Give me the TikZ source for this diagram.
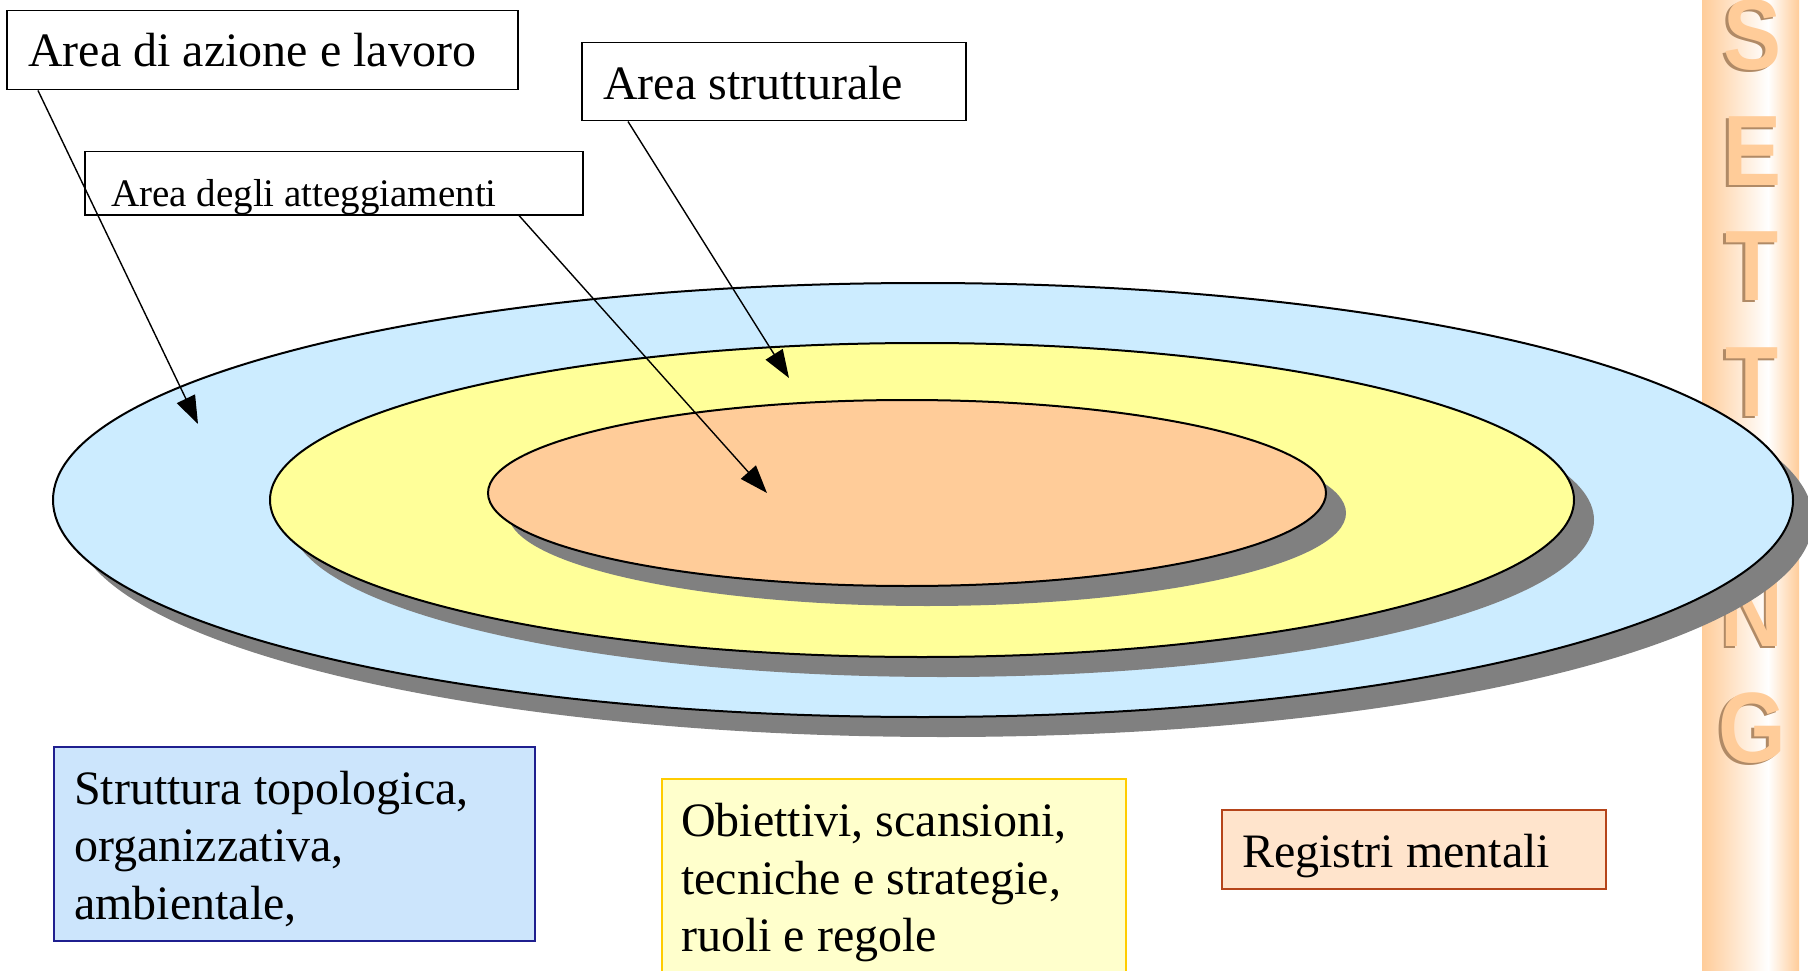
\documentclass[tikz,border=0pt]{standalone}
\usepackage{fontspec}
\setmainfont{Liberation Serif}
\newfontfamily\settingfont{Liberation Sans}
\usetikzlibrary{arrows.meta,calc}
\definecolor{ringblue}{HTML}{CCECFF}
\definecolor{ringyellow}{HTML}{FFFF99}
\definecolor{ringorange}{HTML}{FFCC99}
\definecolor{shadowgray}{HTML}{808080}
\definecolor{barorange}{HTML}{FFCC99}
\definecolor{lettershadow}{HTML}{B08A66}
\definecolor{boxblue}{HTML}{CCE5FC}
\definecolor{boxblueline}{HTML}{1F1F8F}
\definecolor{boxyellow}{HTML}{FFFFCC}
\definecolor{boxyellowline}{HTML}{FFCC00}
\definecolor{boxpeach}{HTML}{FFE4CC}
\definecolor{boxpeachline}{HTML}{B5441A}
\begin{document}
\begin{tikzpicture}[x=1pt,y=-1pt,
  labelbox/.style={draw=black,line width=1.5pt,fill=white,inner sep=0pt,anchor=north west},
  lbl/.style={anchor=base west,inner sep=0pt,font=\fontsize{48}{58}\selectfont},
  pointer/.style={draw=black,line width=1.4pt,-{Triangle[length=28pt,width=20pt]}},
  ring/.style={draw=black,line width=2pt},
  ringshadow/.style={fill=shadowgray},
  letter/.style={inner sep=0pt,font=\settingfont\bfseries\fontsize{100}{100}\selectfont}]
\useasboundingbox (0,0) rectangle (1808,971);
% SETTING bar
\shade[left color=barorange,right color=white] (1702,0) rectangle (1768,971);
\shade[left color=white,right color=barorange] (1768,0) rectangle (1799,971);
\foreach \ch/\yy [count=\i] in {S/35,E/151,T/266,T/382,I/497,N/612,G/728} {
  \node[letter,text=lettershadow] (ls\i) at (1749.5,\yy+2.5) {\scalebox{0.87}[1]{\ch}};
  \node[letter,text=barorange] (lt\i) at (1752,\yy) {\scalebox{0.87}[1]{\ch}};
}
% rings
\fill[ringshadow] (943,520) ellipse[x radius=870,y radius=217];
\draw[ring,fill=ringblue] (923,500) ellipse[x radius=870,y radius=217];
\fill[ringshadow] (942,520) ellipse[x radius=652,y radius=157];
\draw[ring,fill=ringyellow] (922,500) ellipse[x radius=652,y radius=157];
\fill[ringshadow] (927,513) ellipse[x radius=419,y radius=93];
\draw[ring,fill=ringorange] (907,493) ellipse[x radius=419,y radius=93];
% top labels
\node[labelbox,minimum width=511pt,minimum height=79pt] (b1) at (6,10) {};
\node[lbl] (t1) at (28,67) {Area di azione e lavoro};
\node[labelbox,minimum width=384pt,minimum height=78pt] (b2) at (581,42) {};
\node[lbl] (t2) at (603,100) {Area strutturale};
\node[labelbox,minimum width=498pt,minimum height=63pt] (b3) at (84,151) {};
\begin{scope}
\clip (b3.north west) rectangle (b3.south east);
\node[lbl,font=\fontsize{39}{47}\selectfont] (t3) at (111,206) {Area degli atteggiamenti};
\end{scope}
% bottom boxes
\node[labelbox,draw=boxblueline,fill=boxblue,minimum width=481pt,minimum height=194pt] (b4) at (53,746) {};
\node[lbl] (t4a) at (74,804) {Struttura topologica,};
\node[lbl] (t4b) at (74,861) {organizzativa,};
\node[lbl] (t4c) at (74,919) {ambientale,};
\node[labelbox,draw=boxyellowline,fill=boxyellow,minimum width=464pt,minimum height=220pt] (b5) at (661,778) {};
\node[lbl] (t5a) at (681,836) {Obiettivi, scansioni,};
\node[lbl] (t5b) at (681,894) {tecniche e strategie,};
\node[lbl] (t5c) at (681,951) {ruoli e regole};
\node[labelbox,draw=boxpeachline,fill=boxpeach,minimum width=384pt,minimum height=79pt] (b6) at (1221,809) {};
\node[lbl] (t6) at (1242,867) {Registri mentali};
% arrows
\coordinate (tip1) at (198,424);
\coordinate (tip2) at (789,378);
\coordinate (tip3) at (767,493);
\draw[pointer] ($(b1.south west)+(32,0)$) -- (tip1);
\draw[pointer] ($(b2.south west)+(47,0)$) -- (tip2);
\draw[pointer] ($(b3.south west)+(435,0)$) -- (tip3);
\end{tikzpicture}
\end{document}
